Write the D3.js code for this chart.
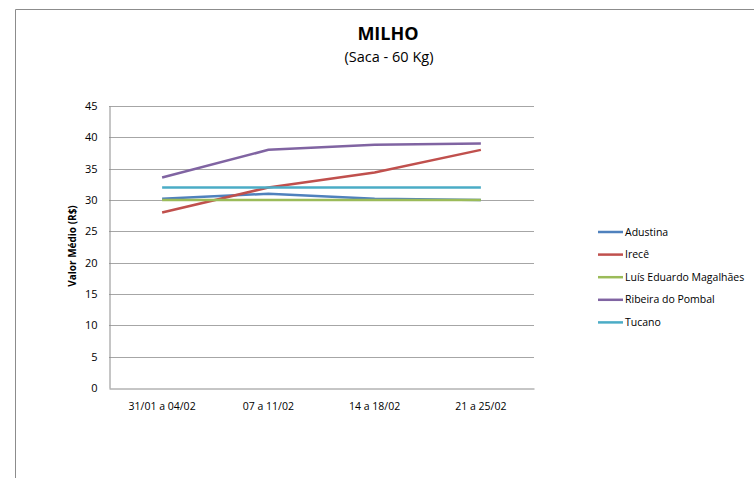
<!DOCTYPE html>
<html><head><meta charset="utf-8">
<script src="https://cdn.jsdelivr.net/npm/d3@7"></script>
<style>body{margin:0;background:#fff}svg{display:block}text{font-family:"Open Sans","Liberation Sans",sans-serif}</style>
</head><body>
<svg id="c" width="754" height="478"></svg>
<script>
const categories = ["31/01 a 04/02","07 a 11/02","14 a 18/02","21 a 25/02"];
const seriesNames = ["Adustina","Irecê","Luís Eduardo Magalhães","Ribeira do Pombal","Tucano"];
const adustina = [30.2, 31.0, 30.2, 30.0];
const irece = [28.0, 32.0, 34.4, 38.0];
const lem = [30.0, 30.0, 30.0, 30.0];
const ribeira = [33.6, 38.0, 38.8, 39.0];
const tucano = [32.0, 32.0, 32.0, 32.0];
const yTicks = [0,5,10,15,20,25,30,35,40,45];
const colors = ["#4F81BD","#C0504D","#9BBB59","#8064A2","#4BACC6"];
const seriesData = [adustina, irece, lem, ribeira, tucano];

const svg = d3.select("#c");
// frame
svg.append("path").attr("d","M15.5,478 V9.5 H754").attr("fill","none").attr("stroke","#8c8c8c").attr("stroke-width",1);

const x = d3.scaleBand().domain(categories).range([109,534]);
const y = d3.scaleLinear().domain([0,45]).range([388,106]);

// gridlines
svg.append("g").selectAll("line").data(yTicks.filter(d=>d>0)).join("line")
  .attr("x1",109).attr("x2",534).attr("y1",d=>Math.round(y(d))+0.5).attr("y2",d=>Math.round(y(d))+0.5)
  .attr("stroke","#a6a6a6").attr("stroke-width",1);

// y axis
const ya = svg.append("g").attr("transform","translate(109.5,0)")
  .call(d3.axisLeft(y).tickValues(yTicks).tickSize(0).tickPadding(12));
ya.select(".domain").attr("stroke","#8c8c8c");
ya.selectAll("text").attr("font-size",11).attr("fill","#000");

// x axis
const xa = svg.append("g").attr("transform","translate(0,388.5)")
  .call(d3.axisBottom(x).tickSize(0).tickPadding(14));
xa.select(".domain").attr("stroke","#8c8c8c");
xa.selectAll("text").attr("font-size",10.5).attr("fill","#000");

// lines
const line = d3.line().x((d,i)=>x(categories[i])+x.bandwidth()/2).y(d=>y(d));
svg.append("g").selectAll("path").data(seriesData).join("path")
  .attr("d",line).attr("fill","none").attr("stroke",(d,i)=>colors[i]).attr("stroke-width",2.5);

// titles
svg.append("text").attr("x",388).attr("y",40).attr("text-anchor","middle").attr("font-size",18).attr("font-weight","bold").text("MILHO");
svg.append("text").attr("x",389).attr("y",62).attr("text-anchor","middle").attr("font-size",14.5).text("(Saca - 60 Kg)");

// y label
svg.append("text").attr("transform","translate(76,246) rotate(-90)").attr("text-anchor","middle")
  .attr("font-size",10).attr("font-weight","bold").text("Valor Médio (R$)");

// legend
const lg = svg.append("g").selectAll("g").data(seriesNames).join("g")
  .attr("transform",(d,i)=>`translate(598,${232 + i*22.6})`);
lg.append("line").attr("x1",0).attr("x2",25).attr("stroke",(d,i)=>colors[i]).attr("stroke-width",2.5);
lg.append("text").attr("x",27).attr("dy","0.35em").attr("font-size",10.5).text(d=>d);
</script>
</body></html>
